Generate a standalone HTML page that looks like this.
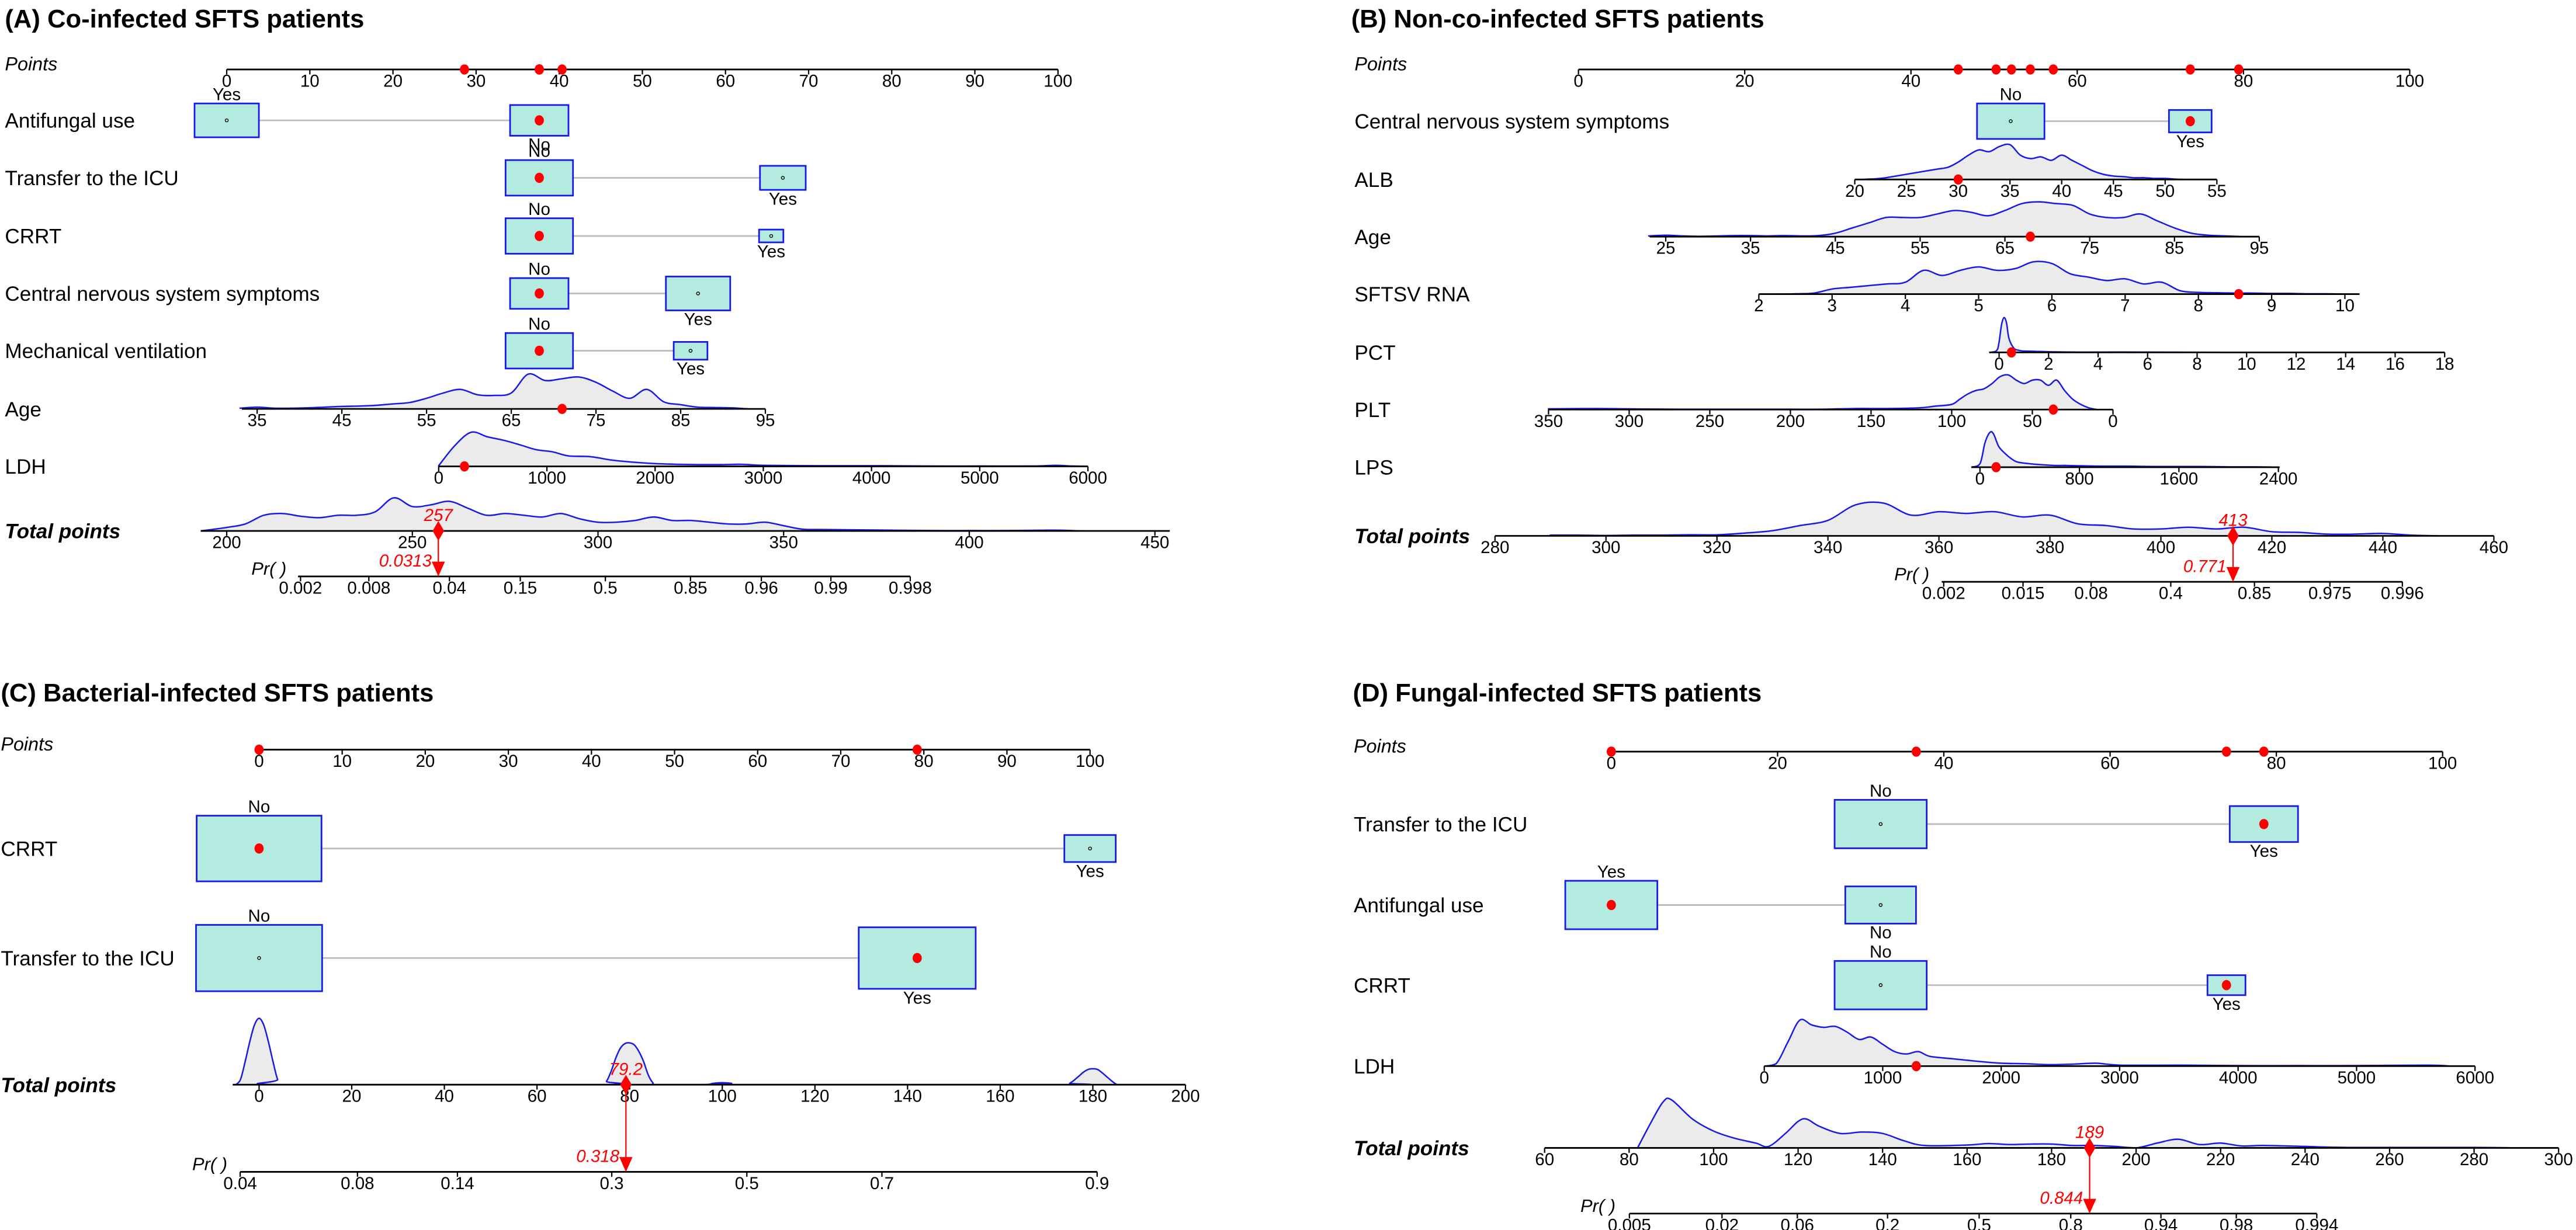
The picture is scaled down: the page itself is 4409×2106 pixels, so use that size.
<!DOCTYPE html>
<html><head><meta charset="utf-8">
<style>
html,body{margin:0;padding:0;background:#fff;}
svg{display:block;}
text{font-family:"Liberation Sans",Arial,sans-serif;}
</style></head>
<body>
<svg id="chart" xmlns="http://www.w3.org/2000/svg" width="4409" height="2106" viewBox="0 0 1568 749" preserveAspectRatio="none">
<rect x="0" y="0" width="1568" height="749" fill="#fff"/>
</svg>
<script>
// ===== DATA =====
// Panel A
const aPointsTicks=[0,10,20,30,40,50,60,70,80,90,100];
const aAntifungalCats=["Yes","No"]; const aAntifungalPts=[0,37.6]; const aAntifungalFreq=[0.91,0.75]; const aAntifungalSel=1;
const aTransferCats=["No","Yes"]; const aTransferPts=[37.6,66.9]; const aTransferFreq=[1.0,0.46]; const aTransferSel=0;
const aCrrtCats=["No","Yes"]; const aCrrtPts=[37.6,65.5]; const aCrrtFreq=[1.0,0.13]; const aCrrtSel=0;
const aCnsCats=["No","Yes"]; const aCnsPts=[37.6,56.7]; const aCnsFreq=[0.75,0.91]; const aCnsSel=0;
const aMvCats=["No","Yes"]; const aMvPts=[37.6,55.8]; const aMvFreq=[1.0,0.25]; const aMvSel=0;
const aAgeTicks=[35,45,55,65,75,85,95]; const aAgeMap=[35,3.66,95,64.8]; const aAgeRange=[33.2,95]; const aAgeSel=71;
const aAgeV=[33,35,37,39,41,43,45,47,49,51,53,55,57,59,61,63,65,67,69,71,73,75,77,79,81,83,85,87,89,91,93];
const aAgeD=[0.02,0.05,0.02,0.02,0.03,0.05,0.07,0.08,0.1,0.14,0.18,0.3,0.45,0.55,0.4,0.38,0.45,0.98,0.8,0.85,0.9,0.75,0.5,0.3,0.55,0.2,0.12,0.05,0.04,0.03,0];
const aLdhTicks=[0,1000,2000,3000,4000,5000,6000]; const aLdhMap=[0,25.5,6000,103.6]; const aLdhRange=[0,6000]; const aLdhSel=238;
const aLdhV=[0,150,300,450,600,750,900,1050,1200,1400,1600,1800,2000,2200,2400,2600,2800,3000,3500,4000,4500,5000,5500,5700,5850,6000];
const aLdhD=[0.02,0.6,0.98,0.85,0.75,0.62,0.48,0.42,0.3,0.28,0.18,0.12,0.08,0.06,0.05,0.05,0.06,0.03,0.02,0.02,0.01,0.01,0.01,0.03,0.01,0];
const aTotalTicks=[200,250,300,350,400,450]; const aTotalRange=[193,454]; const aTotalPred=257;
const aTotalV=[193,200,205,210,215,220,225,230,235,240,245,250,255,260,265,270,275,280,285,290,295,300,305,310,315,320,325,330,335,340,345,350,355,360,370,380,390,400,410,420,425,430];
const aTotalD=[0,0.1,0.2,0.45,0.5,0.42,0.38,0.45,0.45,0.55,0.95,0.7,0.75,0.85,0.65,0.45,0.5,0.45,0.4,0.5,0.35,0.25,0.25,0.3,0.4,0.3,0.3,0.25,0.2,0.2,0.25,0.15,0.05,0.04,0.03,0.02,0.01,0.01,0.01,0.02,0.02,0];
const aPrTicks=["0.002","0.008","0.04","0.15","0.5","0.85","0.96","0.99","0.998"]; const aPrRange=[0.0019,0.998]; const aPrPred="0.0313";
// Panel B
const bPointsTicks=[0,20,40,60,80,100];
const bCnsCats=["No","Yes"]; const bCnsPts=[52.0,73.6]; const bCnsFreq=[1.0,0.4]; const bCnsSel=1;
const bAlbTicks=[20,25,30,35,40,45,50,55]; const bAlbMap=[20,33.24,55,76.8]; const bAlbRange=[20,55]; const bAlbSel=30;
const bAlbV=[20.5,22,23,24,25,26,27,28,29,30,31,32,33,34,35,36,37,38,39,40,41,42,43,44,45,46,47,48,49,50,51,52];
const bAlbD=[0,0.02,0.05,0.1,0.15,0.2,0.25,0.3,0.35,0.5,0.7,0.85,0.8,0.95,1,0.7,0.6,0.65,0.55,0.7,0.55,0.4,0.25,0.15,0.1,0.08,0.05,0.05,0.03,0.03,0.01,0];
const bAgeTicks=[25,35,45,55,65,75,85,95]; const bAgeMap=[25,10.5,95,81.9]; const bAgeRange=[23.1,95]; const bAgeSel=68;
const bAgeV=[23,25,27,29,31,33,35,37,39,41,43,45,47,49,51,53,55,57,59,61,63,65,67,69,71,73,75,77,79,81,83,85,87,89,91,93];
const bAgeD=[0.02,0.04,0.02,0.01,0.02,0.03,0.03,0.02,0.03,0.02,0.03,0.1,0.25,0.4,0.55,0.55,0.55,0.65,0.75,0.7,0.6,0.75,0.95,1.0,0.95,0.9,0.65,0.55,0.55,0.65,0.45,0.25,0.1,0.04,0.02,0];
const bRnaTicks=[2,3,4,5,6,7,8,9,10]; const bRnaMap=[2,21.7,10,92.2]; const bRnaRange=[2,10.2]; const bRnaSel=8.55;
const bRnaV=[2,2.25,2.5,2.75,3,3.25,3.5,3.75,4,4.25,4.5,4.75,5,5.25,5.5,5.75,6,6.25,6.5,6.75,7,7.25,7.5,7.75,8,8.25,8.5,8.75,9,9.25,9.5,9.75,10];
const bRnaD=[0,0,0.01,0.03,0.15,0.2,0.25,0.3,0.35,0.7,0.55,0.7,0.8,0.7,0.75,0.95,0.9,0.6,0.5,0.4,0.45,0.3,0.35,0.1,0.05,0.04,0.03,0.03,0.02,0.02,0.01,0.01,0];
const bPctTicks=[0,2,4,6,8,10,12,14,16,18]; const bPctMap=[0,50.6,18,104.2]; const bPctRange=[-0.4,18]; const bPctSel=0.5;
const bPctV=[-0.4,-0.1,0,0.1,0.2,0.3,0.4,0.6,0.8,1,1.5,2,3,5,10,18];
const bPctD=[0,0.05,0.3,0.8,1.0,0.85,0.4,0.12,0.06,0.04,0.03,0.02,0.01,0.01,0,0];
const bPltTicks=[350,300,250,200,150,100,50,0]; const bPltMap=[350,-3.6,0,64.3]; const bPltRange=[350,0]; const bPltSel=37;
const bPltV=[350,320,300,270,250,220,200,180,160,140,120,110,100,95,90,85,80,75,70,65,60,55,50,45,40,35,30,25,20,15,10];
const bPltD=[0.02,0.03,0.02,0.01,0.01,0.01,0.01,0.01,0.03,0.03,0.05,0.1,0.15,0.3,0.45,0.55,0.6,0.75,0.95,1.0,0.85,0.75,0.85,0.85,0.7,0.85,0.55,0.3,0.15,0.05,0];
const bLpsTicks=[0,800,1600,2400]; const bLpsMap=[0,48.3,2400,84.2]; const bLpsRange=[-70,2410]; const bLpsSel=130;
const bLpsV=[-70,0,40,80,110,150,200,250,300,400,500,600,700,800,1000,1200,1400,1600,1800,2000,2200,2400];
const bLpsD=[0,0.1,0.7,1.0,0.95,0.6,0.4,0.25,0.15,0.1,0.07,0.05,0.05,0.04,0.03,0.03,0.02,0.02,0.02,0.01,0.01,0];
const bTotalTicks=[280,300,320,340,360,380,400,420,440,460]; const bTotalRange=[280,460]; const bTotalPred=413;
const bTotalV=[290,295,300,305,310,315,320,325,330,335,340,345,350,355,360,365,370,375,380,385,390,395,400,405,410,415,420,425,430,435,440,445,450];
const bTotalD=[0.02,0.02,0.01,0.02,0.02,0.03,0.03,0.08,0.15,0.3,0.45,0.9,0.95,0.6,0.7,0.65,0.7,0.55,0.6,0.35,0.3,0.2,0.2,0.25,0.2,0.25,0.12,0.1,0.05,0.05,0.07,0.02,0];
const bPrTicks=["0.002","0.015","0.08","0.4","0.85","0.975","0.996"]; const bPrRange=[0.0019,0.996]; const bPrPred="0.771";
// Panel C
const cPointsTicks=[0,10,20,30,40,50,60,70,80,90,100];
const cCrrtCats=["No","Yes"]; const cCrrtPts=[0,100]; const cCrrtFreq=[0.98,0.166]; const cCrrtSel=0;
const cTransferCats=["No","Yes"]; const cTransferPts=[0,79.2]; const cTransferFreq=[1.0,0.86]; const cTransferSel=1;
const cTotalTicks=[0,20,40,60,80,100,120,140,160,180,200]; const cTotalRange=[-5.7,200]; const cTotalPred=79.2;
const cTotalV=[-5,-4,-3,-2,-1,0,1,2,3,4,5,74,75,76,77,78,79,80,81,82,83,84,85,86,96,98,100,102,104,174,175,176,177,178,179,180,181,182,183,184,185,186,200];
const cTotalD=[0,0.08,0.35,0.65,0.9,1,0.9,0.65,0.35,0.08,0,0,0.05,0.2,0.4,0.55,0.62,0.63,0.6,0.5,0.35,0.15,0.03,0,0,0.02,0.03,0.02,0,0,0.02,0.07,0.13,0.19,0.23,0.24,0.23,0.18,0.12,0.06,0.01,0,0];
const cPrTicks=["0.04","0.08","0.14","0.3","0.5","0.7","0.9"]; const cPrRange=[0.04,0.9]; const cPrPred="0.318";
// Panel D
const dPointsTicks=[0,20,40,60,80,100];
const dTransferCats=["No","Yes"]; const dTransferPts=[32.4,78.5]; const dTransferFreq=[1.0,0.55]; const dTransferSel=1;
const dAntifungalCats=["Yes","No"]; const dAntifungalPts=[0,32.4]; const dAntifungalFreq=[1.0,0.59]; const dAntifungalSel=0;
const dCrrtCats=["No","Yes"]; const dCrrtPts=[32.4,74.0]; const dCrrtFreq=[1.0,0.17]; const dCrrtSel=1;
const dLdhTicks=[0,1000,2000,3000,4000,5000,6000]; const dLdhMap=[0,18.4,6000,103.9]; const dLdhRange=[0,6000]; const dLdhSel=1283;
const dLdhV=[0,100,200,300,400,500,600,700,800,900,1000,1100,1200,1300,1400,1600,1800,2000,2200,2400,2600,2800,3000,3500,4000,4500,5000,5600,5800];
const dLdhD=[0,0.05,0.5,0.95,0.85,0.8,0.82,0.7,0.55,0.6,0.45,0.3,0.25,0.3,0.2,0.15,0.1,0.06,0.05,0.03,0.04,0.06,0.02,0.02,0.01,0.01,0.01,0.02,0];
const dTotalTicks=[60,80,100,120,140,160,180,200,220,240,260,280,300]; const dTotalRange=[60,300]; const dTotalPred=189;
const dTotalV=[82,85,88,90,95,100,105,110,113,117,120,122,125,130,135,140,145,150,160,165,170,175,180,185,190,195,200,205,210,215,220,225,230,240,250,280,290];
const dTotalD=[0,0.5,0.95,1.0,0.6,0.35,0.2,0.1,0.03,0.3,0.55,0.6,0.45,0.3,0.33,0.3,0.15,0.05,0.06,0.09,0.07,0.08,0.08,0.05,0.05,0.03,0,0.1,0.18,0.07,0.1,0.04,0.05,0.03,0.01,0.01,0];
const dPrTicks=["0.005","0.02","0.06","0.2","0.5","0.8","0.94","0.98","0.994"]; const dPrRange=[0.005,0.994]; const dPrPred="0.844";

// ===== DRAWING =====
const NS='http://www.w3.org/2000/svg';
const svg=document.getElementById('chart');
const BLUE='#1a1ae6', RED='#ff0000';
function mk(tag,attrs,parent){const e=document.createElementNS(NS,tag);for(const k in attrs)e.setAttribute(k,attrs[k]);(parent||svg).appendChild(e);return e;}
function txt(parent,x,y,s,size,extra){const t=mk('text',Object.assign({x:x,y:y,'font-size':size,fill:'#000'},extra||{}),parent);t.textContent=s;return t;}
function logit(p){return Math.log(p/(1-p));}
function densPath(pts,baseY){
  let d='M'+pts[0][0]+','+baseY+' L'+pts[0][0]+','+pts[0][1];
  for(let i=0;i<pts.length-1;i++){
    const p0=pts[Math.max(0,i-1)],p1=pts[i],p2=pts[i+1],p3=pts[Math.min(pts.length-1,i+2)];
    const c1x=p1[0]+(p2[0]-p0[0])/6,c1y=Math.min(baseY,p1[1]+(p2[1]-p0[1])/6);
    const c2x=p2[0]-(p3[0]-p1[0])/6,c2y=Math.min(baseY,p2[1]-(p3[1]-p1[1])/6);
    d+=' C'+c1x.toFixed(2)+','+c1y.toFixed(2)+' '+c2x.toFixed(2)+','+c2y.toFixed(2)+' '+p2[0].toFixed(2)+','+p2[1].toFixed(2);
  }
  return d;
}
function drawDensity(g,V,D,xf,baseY,hmax){
  const pts=V.map((v,i)=>[xf(v),baseY-D[i]*hmax]);
  const f=mk('path',{d:densPath(pts,baseY)+' L'+pts[pts.length-1][0]+','+baseY+' Z',fill:'#ebebeb',stroke:'none'},g);
  
  
  const l=mk('path',{d:densPath(pts,baseY),fill:'none',stroke:BLUE,'stroke-width':0.9},g);
  
  
}
function axisLine(g,x0,x1,y){const l=mk('line',{x1:x0,x2:x1,y1:y,y2:y,stroke:'#000','stroke-width':1},g);}
function ticks(g,vals,labels,xf,y){
  vals.forEach((v,i)=>{
    const x=xf(v);
    const t=mk('line',{x1:x,x2:x,y1:y,y2:y+3,stroke:'#000','stroke-width':0.8},g);
    
    
    const lb=txt(g,x,y+10.5,labels[i],10.5,{'text-anchor':'middle'});
    
    
  });
}
function redDot(g,x,y){const c=mk('ellipse',{cx:x,cy:y,rx:2.8,ry:3.1,fill:RED},g);}
function rowLabel(g,x,y,s,extra,name){const t=txt(g,x,y+4.5,s,12.5,extra);}

function panel(cfg){
  const g=mk('g',{});
  
  
  const px=p=>cfg.x0+(cfg.x1-cfg.x0)*p/100;
  const ti=txt(g,cfg.titleX,cfg.titleY,cfg.title,15.5,{'font-weight':'bold'});
  
  
  rowLabel(g,cfg.labelX,cfg.pointsY-4,'Points',{'font-style':'italic','font-size':11.5},'points-axis-title');
  axisLine(g,cfg.x0,cfg.x1,cfg.pointsY);
  ticks(g,cfg.pointsTicks,cfg.pointsTicks.map(String),px,cfg.pointsY);
  const selPts=[];
  cfg.rows.forEach(r=>{
    rowLabel(g,cfg.labelX,r.y,r.label,{},'row-label');
    if(r.type==='cat'){
      const xs=r.pts.map(px);
      const cl=mk('line',{x1:xs[0],x2:xs[1],y1:r.y,y2:r.y,stroke:'#bdbdbd','stroke-width':1},g);
      
      
      r.cats.forEach((c,i)=>{
        const h=cfg.boxK*Math.sqrt(r.freq[i]),w=h*1.9;
        const b=mk('rect',{x:xs[i]-w/2,y:r.y-h/2,width:w,height:h,fill:'#b3ebe1',stroke:BLUE,'stroke-width':1},g);
        
        
        const ly=i===0?r.y-h/2-2:r.y+h/2+9;
        const lb=txt(g,xs[i],ly,c,10.5,{'text-anchor':'middle'});
        
        
        if(i===r.sel){redDot(g,xs[i],r.y);}
        else{const o=mk('circle',{cx:xs[i],cy:r.y,r:0.9,fill:'none',stroke:'#000','stroke-width':0.5},g);}
      });
      selPts.push(r.pts[r.sel]);
    } else {
      const m=r.map;
      const vp=v=>m[1]+(v-m[0])*(m[3]-m[1])/(m[2]-m[0]);
      const vx=v=>px(vp(v));
      drawDensity(g,r.V,r.D,vx,r.y,r.hmax);
      axisLine(g,vx(r.range[0]),vx(r.range[1]),r.y);
      ticks(g,r.ticks,r.ticks.map(String),vx,r.y);
      redDot(g,vx(r.sel),r.y);
      selPts.push(vp(r.sel));
    }
  });
  selPts.forEach(p=>redDot(g,px(p),cfg.pointsY));
  const T=cfg.total;
  const tx=v=>T.px0+(v-T.t0)*(T.px1-T.px0)/(T.t1-T.t0);
  rowLabel(g,cfg.labelX,T.y,'Total points',{'font-style':'italic','font-weight':'bold','font-size':12.5},'total-points-title');
  drawDensity(g,T.V,T.D,tx,T.y,T.hmax);
  axisLine(g,tx(T.range[0]),tx(T.range[1]),T.y);
  ticks(g,T.ticks,T.ticks.map(String),tx,T.y);
  const P=cfg.pr;
  const prx=p=>P.a+P.b*logit(p);
  const pl=txt(g,P.labelX,P.y-1,'Pr( )',11,{'font-style':'italic'});
  
  
  axisLine(g,prx(P.range[0]),prx(P.range[1]),P.y);
  ticks(g,P.ticks.map(Number),P.ticks,prx,P.y);
  const xp=tx(T.pred);
  const ar=mk('line',{x1:xp,x2:xp,y1:T.y,y2:P.y-8,stroke:RED,'stroke-width':0.8},g);
  
  
  const ah=mk('polygon',{points:(xp-4)+','+(P.y-9)+' '+(xp+4)+','+(P.y-9)+' '+xp+','+P.y,fill:RED},g);
  
  
  const dm=mk('polygon',{points:xp+','+(T.y-6)+' '+(xp+3.5)+','+T.y+' '+xp+','+(T.y+6)+' '+(xp-3.5)+','+T.y,fill:RED},g);
  
  
  const tl=txt(g,xp,T.y-6,String(T.pred),10.5,{'text-anchor':'middle',fill:RED,'font-style':'italic'});
  
  
  const pv=txt(g,xp-4,P.y-6,P.pred,10.5,{'text-anchor':'end',fill:RED,'font-style':'italic'});
  
  
}

panel({name:'panel-a-co-infected',title:'(A) Co-infected SFTS patients',titleX:3,titleY:16.7,labelX:3,x0:138,x1:644,pointsY:42.3,pointsTicks:aPointsTicks,boxK:21.6,
 rows:[
  {type:'cat',label:'Antifungal  use',y:73.3,cats:aAntifungalCats,pts:aAntifungalPts,freq:aAntifungalFreq,sel:aAntifungalSel},
  {type:'cat',label:'Transfer  to  the  ICU',y:108.3,cats:aTransferCats,pts:aTransferPts,freq:aTransferFreq,sel:aTransferSel},
  {type:'cat',label:'CRRT',y:143.7,cats:aCrrtCats,pts:aCrrtPts,freq:aCrrtFreq,sel:aCrrtSel},
  {type:'cat',label:'Central  nervous  system  symptoms',y:178.7,cats:aCnsCats,pts:aCnsPts,freq:aCnsFreq,sel:aCnsSel},
  {type:'cat',label:'Mechanical  ventilation',y:213.6,cats:aMvCats,pts:aMvPts,freq:aMvFreq,sel:aMvSel},
  {type:'cont',label:'Age',y:249,ticks:aAgeTicks,map:aAgeMap,range:aAgeRange,sel:aAgeSel,V:aAgeV,D:aAgeD,hmax:21.6},
  {type:'cont',label:'LDH',y:284,ticks:aLdhTicks,map:aLdhMap,range:aLdhRange,sel:aLdhSel,V:aLdhV,D:aLdhD,hmax:21.2}],
 total:{y:323.3,t0:200,t1:450,px0:138,px1:703,ticks:aTotalTicks,range:aTotalRange,V:aTotalV,D:aTotalD,hmax:21.2,pred:aTotalPred},
 pr:{y:351,a:368.5,b:29.87,ticks:aPrTicks,range:aPrRange,labelX:153,pred:aPrPred}});

panel({name:'panel-b-non-co-infected',title:'(B) Non-co-infected SFTS patients',titleX:822.5,titleY:16.7,labelX:824.5,x0:960.8,x1:1466.8,pointsY:42.3,pointsTicks:bPointsTicks,boxK:21.6,
 rows:[
  {type:'cat',label:'Central  nervous  system  symptoms',y:73.8,cats:bCnsCats,pts:bCnsPts,freq:bCnsFreq,sel:bCnsSel},
  {type:'cont',label:'ALB',y:109.3,ticks:bAlbTicks,map:bAlbMap,range:bAlbRange,sel:bAlbSel,V:bAlbV,D:bAlbD,hmax:21.2},
  {type:'cont',label:'Age',y:144.1,ticks:bAgeTicks,map:bAgeMap,range:bAgeRange,sel:bAgeSel,V:bAgeV,D:bAgeD,hmax:21.2},
  {type:'cont',label:'SFTSV  RNA',y:179.1,ticks:bRnaTicks,map:bRnaMap,range:bRnaRange,sel:bRnaSel,V:bRnaV,D:bRnaD,hmax:20.7},
  {type:'cont',label:'PCT',y:214.6,ticks:bPctTicks,map:bPctMap,range:bPctRange,sel:bPctSel,V:bPctV,D:bPctD,hmax:21.2},
  {type:'cont',label:'PLT',y:249.4,ticks:bPltTicks,map:bPltMap,range:bPltRange,sel:bPltSel,V:bPltV,D:bPltD,hmax:21.1},
  {type:'cont',label:'LPS',y:284.5,ticks:bLpsTicks,map:bLpsMap,range:bLpsRange,sel:bLpsSel,V:bLpsV,D:bLpsD,hmax:21.2}],
 total:{y:326.3,t0:280,t1:460,px0:910,px1:1518,ticks:bTotalTicks,range:bTotalRange,V:bTotalV,D:bTotalD,hmax:21,pred:bTotalPred},
 pr:{y:354.3,a:1331,b:23.8,ticks:bPrTicks,range:bPrRange,labelX:1153,pred:bPrPred}});

panel({name:'panel-c-bacterial-infected',title:'(C) Bacterial-infected SFTS patients',titleX:0.5,titleY:427.2,labelX:0.5,x0:157.7,x1:663.5,pointsY:456.5,pointsTicks:cPointsTicks,boxK:40.4,
 rows:[
  {type:'cat',label:'CRRT',y:516.7,cats:cCrrtCats,pts:cCrrtPts,freq:cCrrtFreq,sel:cCrrtSel},
  {type:'cat',label:'Transfer  to  the  ICU',y:583.4,cats:cTransferCats,pts:cTransferPts,freq:cTransferFreq,sel:cTransferSel}],
 total:{y:660.5,t0:0,t1:200,px0:157.7,px1:721.6,ticks:cTotalTicks,range:cTotalRange,V:cTotalV,D:cTotalD,hmax:40.4,pred:cTotalPred},
 pr:{y:713.6,a:454.6,b:97.04,ticks:cPrTicks,range:cPrRange,labelX:117,pred:cPrPred}});

panel({name:'panel-d-fungal-infected',title:'(D) Fungal-infected SFTS patients',titleX:823.5,titleY:427.2,labelX:824,x0:980.8,x1:1486.8,pointsY:457.7,pointsTicks:dPointsTicks,boxK:29.5,
 rows:[
  {type:'cat',label:'Transfer  to  the ICU',y:501.8,cats:dTransferCats,pts:dTransferPts,freq:dTransferFreq,sel:dTransferSel},
  {type:'cat',label:'Antifungal  use',y:551.1,cats:dAntifungalCats,pts:dAntifungalPts,freq:dAntifungalFreq,sel:dAntifungalSel},
  {type:'cat',label:'CRRT',y:599.9,cats:dCrrtCats,pts:dCrrtPts,freq:dCrrtFreq,sel:dCrrtSel},
  {type:'cont',label:'LDH',y:649.2,ticks:dLdhTicks,map:dLdhMap,range:dLdhRange,sel:dLdhSel,V:dLdhV,D:dLdhD,hmax:29.5}],
 total:{y:699,t0:60,t1:300,px0:940.2,px1:1557.4,ticks:dTotalTicks,range:dTotalRange,V:dTotalV,D:dTotalD,hmax:29.3,pred:dTotalPred},
 pr:{y:739,a:1204.7,b:40.22,ticks:dPrTicks,range:dPrRange,labelX:962,pred:dPrPred}});
</script>
</body></html>
